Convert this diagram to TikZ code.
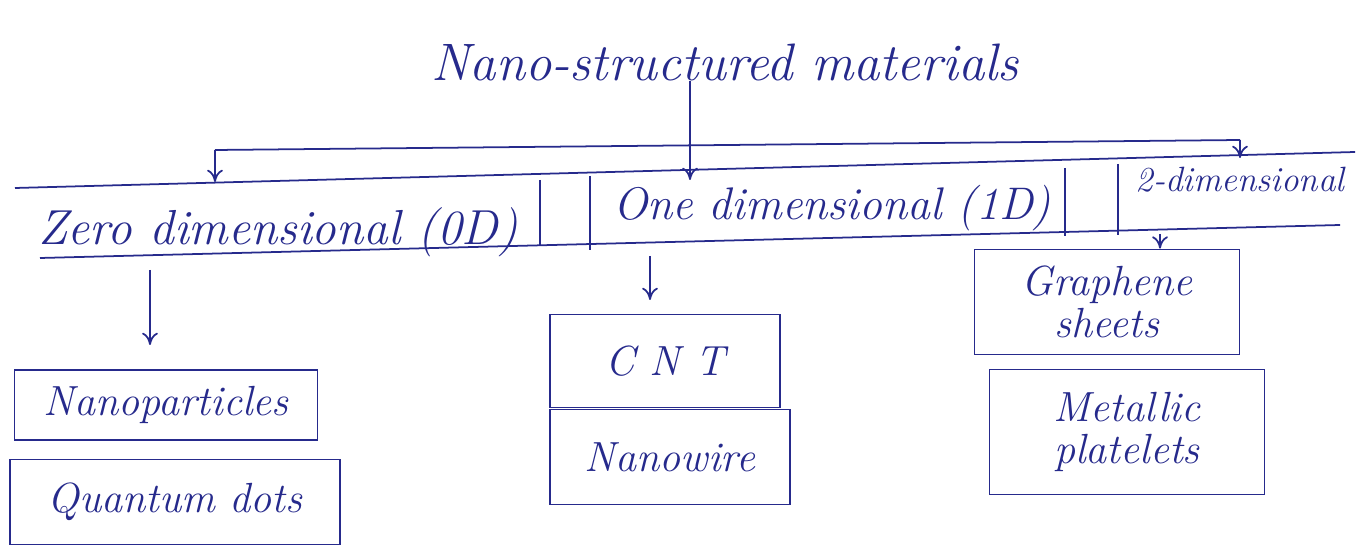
\documentclass[tikz,border=0pt]{standalone}
\usetikzlibrary{positioning,arrows.meta}
\definecolor{ink}{RGB}{38,42,140}
\begin{document}
\begin{tikzpicture}[x=0.02cm,y=-0.02cm,ink,line width=1pt,
  hand/.style={font=\fontsize{#1}{#1}\selectfont\itshape,inner sep=0pt,align=center},
  leaf/.style={draw,hand=24,inner sep=0pt},
  pointer/.style={-{To[length=7pt,width=9pt]}}]
\useasboundingbox (0,0) rectangle (1365,553);
% title and the split
\node[hand=30] (top) at (725,62) {Nano-structured materials};
\coordinate (sL) at (215,150); \coordinate (sM) at (690,146); \coordinate (sR) at (1240,140);
\draw (sL) -- (sR);
\draw[pointer] (top.south-|sM) -- (690,180);
\draw[pointer] (sL) -- (215,182);
\draw[pointer] (sR) -- (1240,158);
% row of classes
\draw (15,188) -- (1355,152) (40,258) -- (1340,225);
\foreach \x/\a/\b in {540/180/245, 590/176/250, 1065/168/236, 1118/164/235} \draw (\x,\a) -- (\x,\b);
\node[hand=28] (zero) at (278,232) {Zero dimensional (0D)};
\node[hand=26] (one) at (832,208) {One dimensional (1D)};
\node[hand=20] (two) at (1240,180) {2-dimensional};
% boxes
\foreach \n/\x/\y/\w/\h/\t in {np/166/405/303/70/Nanoparticles, qd/175/502/330/85/Quantum dots,
  cnt/665/361/230/93/C N T, nw/670/457/240/95/Nanowire,
  gs/1107/302/265/105/{Graphene\\sheets}, mp/1127/432/275/125/{Metallic\\platelets}}
  \node[leaf,minimum width=\w*0.02cm,minimum height=\h*0.02cm] (\n) at (\x,\y) {\t};
\draw[pointer] (150,270) -- (150,345);
\draw[pointer] (650,256) -- (650,300);
\draw[pointer] (1160,234) -- (gs.north-|1160,0);
\end{tikzpicture}
\end{document}
